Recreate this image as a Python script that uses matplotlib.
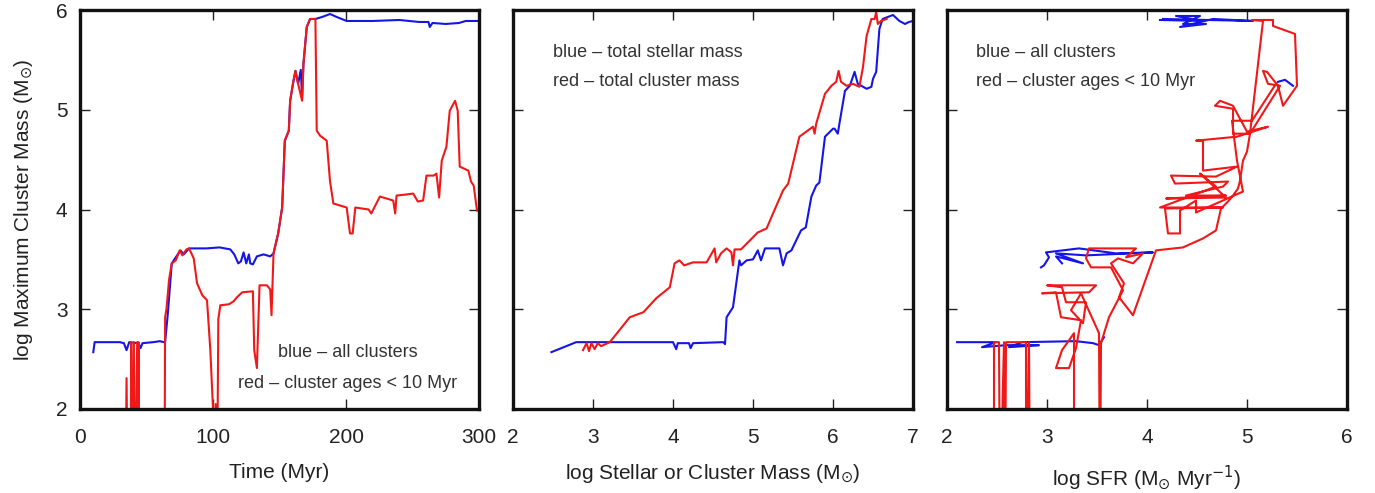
import numpy as np
import matplotlib
matplotlib.use("Agg")
from matplotlib import pyplot as plt

plt.rcParams['font.family'] = ['Liberation Sans Narrow', 'Liberation Sans', 'DejaVu Sans']
plt.rcParams['mathtext.fontset'] = 'custom'
plt.rcParams['mathtext.rm'] = 'Liberation Sans Narrow'
plt.rcParams['mathtext.it'] = 'Liberation Sans Narrow'

BLUE = '#1515e6'
RED = '#f01818'
BELOW = 1.0  # no young clusters -> off the bottom of the axis

# ---------------- panel 1: max cluster mass vs time ----------------
t_blue = [10, 11, 20, 30, 33, 35, 37, 44, 45.5, 47, 55, 60, 63, 64, 66, 69, 75.5, 78, 82, 95, 105, 113,
          116, 119, 121, 123, 125, 127, 128, 130, 133, 138, 143, 145.5, 149, 152, 154, 157, 158, 160.5,
          162, 164, 166, 167, 168, 170.5, 173, 177, 182, 188, 193, 200.5, 220, 240, 255, 262, 263, 265,
          275, 285, 290, 299]
m_blue = [2.57, 2.67, 2.67, 2.67, 2.66, 2.59, 2.67, 2.66, 2.61, 2.66, 2.67, 2.68, 2.67, 2.67, 2.95, 3.46,
          3.59, 3.55, 3.61, 3.61, 3.62, 3.60, 3.55, 3.46, 3.48, 3.57, 3.46, 3.55, 3.46, 3.45, 3.53, 3.55,
          3.53, 3.56, 3.76, 4.02, 4.69, 4.79, 5.09, 5.29, 5.39, 5.26, 5.40, 5.12, 5.46, 5.83, 5.91, 5.91,
          5.93, 5.96, 5.93, 5.89, 5.89, 5.90, 5.88, 5.88, 5.83, 5.87, 5.86, 5.87, 5.89, 5.89]

t_red = [34, 35, 36, 38, 38.5, 39, 40.5, 41, 43, 43.5, 44, 44.5, 63.5, 64, 65, 67, 69, 72, 75, 77, 80,
         82, 85.5, 88, 92, 95.5, 98, 100, 100.5, 102, 103, 104, 105.5, 112, 115.5, 118, 122, 130, 131,
         133, 135, 140.5, 143, 144, 145.5, 149, 152, 154, 157, 158, 160.5, 162, 164, 167, 168, 170.5,
         173, 177, 178, 180.5, 185.5, 188, 190.5, 200.5, 203, 205, 207, 217, 219, 225.5, 235.5, 237,
         238, 245, 250.5, 254, 258, 260.5, 266, 268, 270, 272, 275.5, 278, 282, 284, 285.5, 292, 294,
         296, 298.5]
m_red = [BELOW, 2.31, BELOW, BELOW, 2.67, BELOW, 2.67, BELOW, 2.67, BELOW, 2.67, BELOW, BELOW, 2.92,
         3.00, 3.30, 3.46, 3.49, 3.59, 3.54, 3.60, 3.61, 3.51, 3.26, 3.14, 3.09, 2.59, 2.00, BELOW, 2.05,
         BELOW, 2.90, 3.04, 3.05, 3.08, 3.12, 3.17, 3.18, 2.59, 2.41, 3.24, 3.24, 3.20, 2.94, 3.56, 3.76,
         4.02, 4.69, 4.79, 5.09, 5.29, 5.39, 5.26, 5.09, 5.46, 5.83, 5.91, 5.91, 4.79, 4.74, 4.69, 4.28,
         4.06, 4.02, 3.76, 3.76, 4.02, 4.00, 3.96, 4.13, 4.09, 3.96, 4.14, 4.15, 4.16, 4.08, 4.09, 4.34,
         4.34, 4.36, 4.12, 4.49, 4.63, 4.99, 5.09, 4.99, 4.43, 4.39, 4.28, 4.24, 3.99]

# ---------------- panel 2: max cluster mass vs total mass ----------------
ms_blue = [2.48, 2.79, 3.5, 4.0, 4.04, 4.06, 4.2, 4.22, 4.25, 4.63, 4.65, 4.67, 4.75, 4.83, 4.85, 4.92,
           5.0, 5.06, 5.1, 5.15, 5.33, 5.375, 5.42, 5.48, 5.54, 5.6, 5.66, 5.73, 5.79, 5.83, 5.9, 6.0,
           6.02, 6.06, 6.08, 6.15, 6.21, 6.27, 6.31, 6.42, 6.48, 6.5, 6.54, 6.58, 6.62, 6.75, 6.83, 6.9,
           6.95, 7.0]
mm_blue = [2.57, 2.67, 2.67, 2.67, 2.60, 2.66, 2.66, 2.61, 2.66, 2.67, 2.65, 2.92, 3.02, 3.49, 3.44, 3.49,
           3.50, 3.59, 3.49, 3.61, 3.61, 3.44, 3.56, 3.59, 3.69, 3.79, 3.82, 4.13, 4.24, 4.27, 4.73, 4.81,
           4.81, 4.76, 4.86, 5.19, 5.24, 5.38, 5.26, 5.21, 5.23, 5.31, 5.38, 5.81, 5.91, 5.95, 5.89, 5.86,
           5.88, 5.89]

ms_red = [2.875, 2.92, 2.95, 2.98, 3.02, 3.06, 3.1, 3.21, 3.46, 3.63, 3.79, 3.96, 4.02, 4.08, 4.14, 4.25,
          4.42, 4.52, 4.54, 4.6, 4.67, 4.73, 4.75, 4.77, 4.85, 5.06, 5.17, 5.25, 5.375, 5.44, 5.58, 5.75,
          5.77, 5.79, 5.9, 5.98, 6.04, 6.07, 6.1, 6.17, 6.25, 6.33, 6.375, 6.42, 6.48, 6.52, 6.54, 6.56,
          6.6, 6.67]
mm_red = [2.59, 2.66, 2.58, 2.66, 2.60, 2.66, 2.63, 2.67, 2.92, 2.97, 3.11, 3.22, 3.46, 3.49, 3.44, 3.47,
          3.47, 3.61, 3.47, 3.56, 3.61, 3.57, 3.44, 3.60, 3.60, 3.77, 3.81, 3.96, 4.19, 4.26, 4.73, 4.83,
          4.76, 4.86, 5.16, 5.24, 5.28, 5.39, 5.28, 5.24, 5.26, 5.23, 5.43, 5.74, 5.91, 5.91, 5.98, 5.86,
          5.89, 5.91]

# ---------------- panel 3: max cluster mass vs SFR ----------------
nan = np.nan
sfr_blue = [2.1, 2.49, 2.35, 2.59, 2.92, 2.62, 2.75, 3.29, 3.46, 3.52, 3.57, nan,
            2.94, 2.97, 3.02, 2.99, 3.32, 3.69, 4.06, 3.39, 3.09, 3.36, 3.09, 3.15, nan,
            4.13, 4.56, 4.29, 4.53, 4.36, 4.59, 4.33, 4.66, 5.06, 4.16, nan,
            5.31, 5.38, 5.46]
ms3_blue = [2.67, 2.67, 2.62, 2.64, 2.64, 2.62, 2.67, 2.68, 2.66, 2.64, 2.72, nan,
            3.42, 3.44, 3.52, 3.57, 3.61, 3.56, 3.57, 3.54, 3.56, 3.46, 3.53, 3.46, nan,
            5.90, 5.89, 5.94, 5.94, 5.86, 5.86, 5.83, 5.91, 5.89, 5.91, nan,
            5.28, 5.30, 5.24]

sfr_red = [2.47, 2.47, 2.52, 2.53, 2.57, 2.58, 2.59, 2.79, 2.79, 2.79, 2.82, 2.83,
           3.27, 3.27, 3.15, 3.09, 3.22, 3.29, 3.34, 3.14, 3.09, 2.95, 3.42, 3.49, 3.0, 3.15, 3.19,
           3.39, 3.36, 3.24, 3.34, 3.52, 3.53, 3.54, 3.62, 3.76, 3.64, 3.44, 3.39, 3.42, 3.89, 3.79,
           3.96, 3.86, 3.71, 3.64, 3.77, 3.72, 3.86, 4.09, 4.36, 4.56, 4.69, 4.74, 4.81, 4.86, 4.91,
           4.93, 4.96, 5.0, 5.03, 5.16, 5.05, 5.26, 5.26, 5.48, 5.5, 5.36, 5.31, 5.2, 5.16, 5.21, 5.33,
           5.03, 4.86, 4.86, 4.68, 4.73, 4.86, 5.0, 5.21, 4.9, 4.49, 4.56, 4.56, 4.9, 4.69, 4.24, 4.28,
           4.81, 4.76, 4.39, 4.79, 4.19, 4.79, 4.53, 4.69, 4.13, 4.76, 4.18, 4.21, 4.33, 4.33, 4.49,
           4.49, 4.96, 4.9, 4.85, 5.05, 5.29]
ms3_red = [BELOW, 2.67, 2.67, BELOW, 2.67, BELOW, 2.67, 2.67, 2.31, BELOW, 2.67, BELOW,
           BELOW, 2.76, 2.59, 2.41, 2.41, 2.61, 2.89, 2.92, 3.17, 3.16, 3.17, 3.24, 3.24, 3.22, 3.07,
           3.07, 2.86, 2.99, 3.16, 2.76, BELOW, 2.66, 2.92, 3.19, 3.42, 3.42, 3.51, 3.61, 3.61, 3.52,
           3.56, 3.46, 3.51, 3.46, 3.26, 3.12, 2.94, 3.59, 3.62, 3.71, 3.79, 4.01, 4.08, 4.14, 4.21,
           4.29, 4.49, 4.58, 4.76, 5.89, 5.90, 5.90, 5.84, 5.76, 5.24, 5.04, 5.24, 5.38, 5.39, 5.26, 5.24,
           4.76, 4.76, 5.01, 5.04, 5.09, 5.04, 4.78, 4.83, 4.73, 4.69, 4.69, 4.39, 4.43, 4.33, 4.34, 4.26,
           4.28, 4.23, 4.14, 4.14, 4.11, 4.12, 4.36, 4.23, 4.02, 4.02, 4.01, 3.76, 3.76, 3.99, 4.09,
           3.97, 4.18, 4.49, 4.89, 4.89, 5.26]

fig = plt.figure(figsize=(13.75, 4.93), dpi=100)
W, H = 1375.0, 493.0
ax1 = fig.add_axes([80 / W, (493 - 409) / H, 399 / W, 399 / H])
ax2 = fig.add_axes([513 / W, (493 - 409) / H, 400 / W, 399 / H])
ax3 = fig.add_axes([947 / W, (493 - 409) / H, 400 / W, 399 / H])

lw = 1.5
ax1.plot(t_blue, m_blue, color=BLUE, lw=lw)
ax1.plot(t_red, m_red, color=RED, lw=lw)
ax2.plot(ms_blue, mm_blue, color=BLUE, lw=lw)
ax2.plot(ms_red, mm_red, color=RED, lw=lw)
ax3.plot(sfr_blue, ms3_blue, color=BLUE, lw=lw)
ax3.plot(sfr_red, ms3_red, color=RED, lw=lw)

tc = '#333333'
fs_txt = 13
ax1.text(201, 2.57, 'blue \u2013 all clusters', ha='center', va='center', fontsize=fs_txt, color=tc)
ax1.text(201, 2.26, 'red \u2013 cluster ages < 10 Myr', ha='center', va='center', fontsize=fs_txt, color=tc)
ax2.text(2.5, 5.57, 'blue \u2013 total stellar mass', ha='left', va='center', fontsize=fs_txt, color=tc)
ax2.text(2.5, 5.28, 'red \u2013 total cluster mass', ha='left', va='center', fontsize=fs_txt, color=tc)
ax3.text(2.29, 5.57, 'blue \u2013 all clusters', ha='left', va='center', fontsize=fs_txt, color=tc)
ax3.text(2.29, 5.28, 'red \u2013 cluster ages < 10 Myr', ha='left', va='center', fontsize=fs_txt, color=tc)

ax1.set_xlim(0, 300)
ax1.set_xticks([0, 100, 200, 300])
ax2.set_xlim(2, 7)
ax2.set_xticks([2, 3, 4, 5, 6, 7])
ax3.set_xlim(2, 6)
ax3.set_xticks([2, 3, 4, 5, 6])

for ax in (ax1, ax2, ax3):
    ax.set_ylim(2, 6)
    ax.set_yticks([2, 3, 4, 5, 6])
    ax.tick_params(direction='in', length=7, width=1, top=True, right=True,
                   labelsize=15, colors='#222222')
    ax.tick_params(axis='x', pad=14)
    ax.tick_params(axis='y', pad=9)
    for s in ax.spines.values():
        s.set_linewidth(2.4)
        s.set_color('#111111')
for ax in (ax2, ax3):
    ax.tick_params(labelleft=False)

ax1.set_ylabel(r'log Maximum Cluster Mass (M$_{\odot}$)', fontsize=15, color='#222222', labelpad=15)
ax1.set_xlabel('Time (Myr)', fontsize=15, color='#222222', labelpad=11)
ax2.set_xlabel(r'log Stellar or Cluster Mass (M$_{\odot}$)', fontsize=15, color='#222222', labelpad=11)
ax3.set_xlabel(r'log SFR (M$_{\odot}$ Myr$^{-1}$)', fontsize=15, color='#222222', labelpad=11)

plt.savefig('out.png', dpi=100)
